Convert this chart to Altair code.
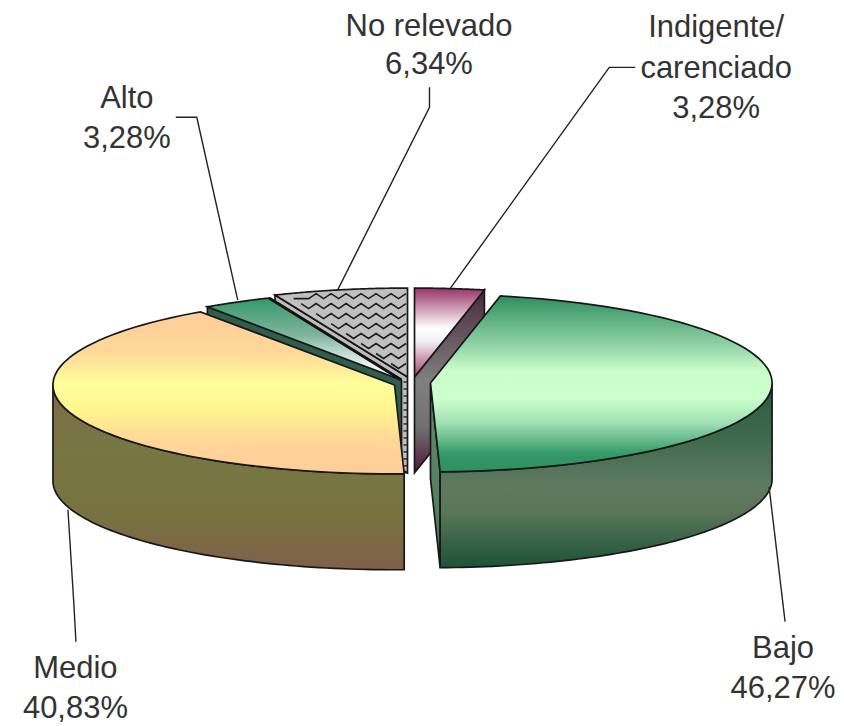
import math
import altair as alt
import pandas as pd

# --- chart values ---
categories = ["Indigente/carenciado", "Bajo", "Medio", "Alto", "No relevado"]
shares = [3.28, 46.27, 40.83, 3.28, 6.34]
label_lines = [
    ["Indigente/", "carenciado", "3,28%"],
    ["Bajo", "46,27%"],
    ["Medio", "40,83%"],
    ["Alto", "3,28%"],
    ["No relevado", "6,34%"],
]

# --- pie look (style, in page pixels) ---
RX, RY, DEPTH = 342, 89, 96
centres = {"Indigente/carenciado": (415, 377), "Bajo": (431, 383), "Medio": (395, 385),
           "Alto": (402, 380), "No relevado": (408, 377)}
label_anchor = [(717, 37, 40.5), (784, 658, 40), (75.5, 678, 40), (127, 108, 40), (429.5, 36, 38)]
leaders = [
    [(636, 67), (610, 67), (451, 288)],
    [(770, 487), (786, 622)],
    [(68, 510), (74, 605), (76, 642)],
    [(176, 117), (197, 117), (238, 300)],
    [(430, 87), (430, 107), (338, 290)],
]
WIDTH, HEIGHT = 829, 716
OUT = "#181818"

xs = alt.Scale(domain=[8, 8 + WIDTH], range=[0, WIDTH], nice=False, zero=False)
ys = alt.Scale(domain=[8, 8 + HEIGHT], range=[0, HEIGHT], nice=False, zero=False)


def grad(*stops):
    return alt.Gradient(gradient="linear", x1=0, x2=0, y1=0, y2=1,
                        stops=[alt.GradientStop(offset=o, color=c) for o, c in stops])


def enc(chart):
    return chart.encode(x=alt.X("x:Q", scale=xs, axis=None), y=alt.Y("y:Q", scale=ys, axis=None),
                        order="i:Q")


def poly(points, fill, width=1.7, stroke=OUT):
    df = pd.DataFrame([{"x": p[0], "y": p[1], "i": i} for i, p in enumerate(points + points[:1])])
    return enc(alt.Chart(df).mark_line(fill=fill, stroke=stroke, strokeWidth=width, interpolate="linear"))


def path(points, width=1.5, stroke=OUT):
    df = pd.DataFrame([{"x": p[0], "y": p[1], "i": i} for i, p in enumerate(points)])
    return enc(alt.Chart(df).mark_line(stroke=stroke, strokeWidth=width))


# slice angles from the values (clockwise from 12 o'clock)
total = sum(shares)
bounds = {}
acc = 0.0
for c, s in zip(categories, shares):
    bounds[c] = (acc / total * 360, (acc + s) / total * 360)
    acc += s


def rim(c, a, drop=0):
    cx, cy = centres[c]
    t = math.radians(a)
    return (cx + RX * math.sin(t), cy - RY * math.cos(t) + drop)


def arc(c, a1, a2, drop=0, n=70):
    return [rim(c, a1 + (a2 - a1) * k / n, drop) for k in range(n + 1)]


def top_face(c, fill):
    a1, a2 = bounds[c]
    return poly([centres[c]] + arc(c, a1, a2), fill)


def radial_wall(c, a, fill):
    cx, cy = centres[c]
    e = rim(c, a)
    return poly([(cx, cy), e, (e[0], e[1] + DEPTH), (cx, cy + DEPTH)], fill)


def outer_wall(c, a1, a2, fill):
    return poly(arc(c, a1, a2) + arc(c, a2, a1, DEPTH), fill)


layers = []

# No relevado: grey with a black zigzag texture
c = "No relevado"
a1, a2 = bounds[c]
layers.append(radial_wall(c, a1, "#bdbdbd"))
for yy in range(382, 474, 7):
    layers.append(path([(404, yy), (408, yy)], 1.3))
layers.append(top_face(c, "#c0c0c0"))
cx, cy = centres[c]
start = rim(c, a1)
for row in range(9):
    base = 296 + row * 10
    pts = []
    for k in range(40):
        px = cx - 1.5 - k * 7.5
        py = base + (2.5 if k % 2 else -2.5)
        lim_x = cx + (start[0] - cx) * (cy - py) / (cy - start[1])
        u = (px - cx) / RX
        top_y = cy - RY * math.sqrt(max(0.0, 1 - u * u))
        if px > lim_x + 1 and top_y + 1.5 < py < cy - 1:
            pts.append((px, py))
    if len(pts) > 1:
        layers.append(path(pts, 1.6, "#1e1e1e"))

# Alto
c = "Alto"
a1, a2 = bounds[c]
layers.append(radial_wall(c, a1, "#2f5f4a"))
layers.append(top_face(c, grad((0, "#339966"), (0.45, "#7fb3a0"), (0.8, "#e2f0ee"), (1, "#f4fafa"))))
layers.append(path([centres[c], rim(c, a2)], 3, "#111111"))

# Indigente
c = "Indigente/carenciado"
a1, a2 = bounds[c]
layers.append(radial_wall(c, a2, grad((0, "#4a2a3c"), (0.5, "#808080"), (0.75, "#707070"), (1, "#4d1a38"))))
layers.append(top_face(c, grad((0, "#993366"), (0.45, "#ffffff"), (0.6, "#f4eef2"), (1, "#a33f70"))))

# Medio
c = "Medio"
a1, a2 = bounds[c]
layers.append(outer_wall(c, a1, 270, grad((0, "#7f6a4a"), (0.35, "#777744"), (0.7, "#777340"), (1, "#80604a"))))
layers.append(top_face(c, grad((0, "#ffcc99"), (0.25, "#ffd899"), (0.45, "#ffff99"), (0.6, "#fff58f"),
                               (0.8, "#ffd699"), (1, "#ffcc99"))))

# Bajo
c = "Bajo"
a1, a2 = bounds[c]
layers.append(radial_wall(c, a2, grad((0, "#5f8a66"), (1, "#4f7a5c"))))
layers.append(outer_wall(c, 90, a2, grad((0, "#2a5a3e"), (0.3, "#3f6a4c"), (0.55, "#5f7a60"), (0.7, "#5a7558"),
                                         (0.85, "#3a6448"), (1, "#1d5336"))))
layers.append(top_face(c, grad((0, "#2f8f5f"), (0.3, "#98d8aa"), (0.42, "#c8fcca"), (0.58, "#ccffcc"),
                               (0.72, "#a0e0b5"), (0.9, "#339966"), (1, "#2f8f5f"))))

# leaders
for ld in leaders:
    layers.append(path(ld, 1.4, "#222222"))

# labels
rows = []
for lines, (lx, ly, dy) in zip(label_lines, label_anchor):
    for j, t in enumerate(lines):
        rows.append({"x": lx, "y": ly + j * dy, "t": t})
labels = alt.Chart(pd.DataFrame(rows)).mark_text(
    font="Liberation Sans", fontSize=31, baseline="alphabetic", align="center", color="#333333"
).encode(x=alt.X("x:Q", scale=xs, axis=None), y=alt.Y("y:Q", scale=ys, axis=None), text="t:N")
layers.append(labels)

chart = alt.layer(*layers).properties(width=WIDTH, height=HEIGHT, padding=0).configure_view(stroke=None)
chart.save("out.html", embed_options={"renderer": "svg", "actions": False})
